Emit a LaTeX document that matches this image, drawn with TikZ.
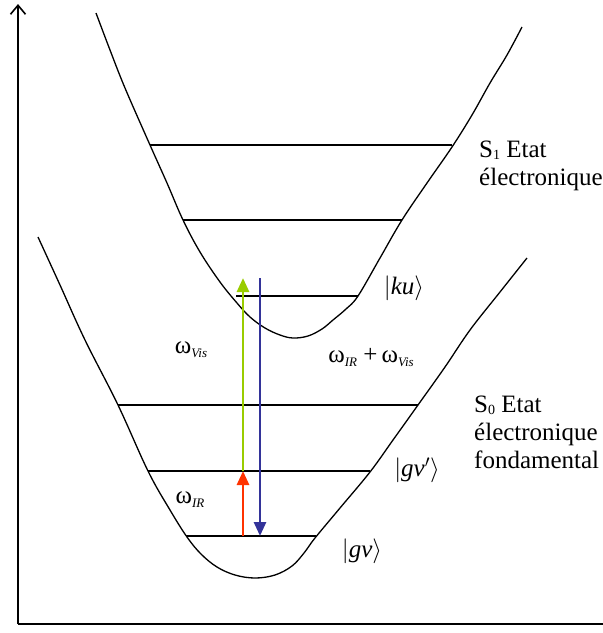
\documentclass[tikz,border=0pt]{standalone}
\usepackage{fontspec}
\setmainfont{Liberation Serif}
\usetikzlibrary{arrows.meta}
\definecolor{visgreen}{RGB}{153,204,0}
\definecolor{irred}{RGB}{255,51,0}
\definecolor{ramanblue}{RGB}{51,51,153}
\newcommand{\wsub}[1]{{\fontsize{25}{25}\selectfont ω}\raisebox{-4pt}{\fontsize{13}{13}\selectfont\itshape #1}}
\begin{document}
\begin{tikzpicture}[x=1pt,y=-1pt,
  curve/.style={line width=1.3pt, line join=round},
  levelline/.style={line width=1.3pt},
  axisline/.style={line width=2pt},
  photon/.style={line width=2.8pt, -{Triangle[length=14pt,width=12pt]}},
  lbl/.style={inner sep=0pt, font=\fontsize{25}{28}\selectfont},
  sublbl/.style={inner sep=0pt, anchor=base west, font=\fontsize{25}{28}\selectfont},
]
\useasboundingbox (0,0) rectangle (603,633);
% axes
\coordinate (O) at (18,624);
\coordinate (Ytop) at (18,4);
\coordinate (Xend) at (603,624);
\draw[axisline] (O) -- (Xend);
\draw[axisline, -{Straight Barb[length=9pt,width=15pt,line width=1.6pt]}] (O) -- (Ytop);
% upper potential S1
\draw[curve] plot[smooth, tension=0.6] coordinates {
  (96,13) (110,50) (125,88) (150,145) (167,183) (183,220) (200,252) (220,282)
  (237,303) (250,317) (265,328) (280,335) (293,338) (308,336) (322,329)
  (333,320) (346,309) (358,296) (380,258) (402,220) (427,183) (452,147)
  (472,115) (490,83) (507,55) (522,27)};
% lower potential S0
\draw[curve] plot[smooth, tension=0.6] coordinates {
  (38,237) (60,285) (85,340) (118,405) (148,471) (170,510) (187,537)
  (201,554) (217,567) (235,575) (255,578) (275,575) (292,566) (304,553)
  (315,538) (340,508) (370,472) (393,440) (418,405) (445,367) (470,330)
  (500,292) (527,258)};
% levels S1
\coordinate (u1a) at (150,145); \coordinate (u1b) at (452,145);
\coordinate (u2a) at (183,220); \coordinate (u2b) at (402,220);
\coordinate (u3a) at (236,296); \coordinate (u3b) at (358,296);
\draw[levelline] (u1a) -- (u1b);
\draw[levelline] (u2a) -- (u2b);
\draw[levelline] (u3a) -- (u3b);
% levels S0
\coordinate (g1a) at (118,405); \coordinate (g1b) at (418,405);
\coordinate (g2a) at (148,471); \coordinate (g2b) at (370,471);
\coordinate (g3a) at (186,536); \coordinate (g3b) at (316,536);
\draw[levelline] (g1a) -- (g1b);
\draw[levelline] (g2a) -- (g2b);
\draw[levelline] (g3a) -- (g3b);
% transitions
\coordinate (irS) at (243,536); \coordinate (irE) at (243,471);
\coordinate (visE) at (243,278);
\coordinate (bS) at (260,278); \coordinate (bE) at (260,536);
\draw[photon, visgreen] (irE) -- (visE);
\draw[photon, irred] (irS) -- (irE);
\draw[photon, ramanblue] (bS) -- (bE);
% labels
\node[lbl] (wvis) at (191,350) {\wsub{Vis}};
\node[lbl] (wsum) at (371,358) {\wsub{IR} +\,\wsub{Vis}};
\node[lbl] (wir) at (190,500) {\wsub{IR}};
\node[lbl] (ku) at (404,288) {$\bigl|$\textit{ku}$\bigr\rangle$};
\node[lbl] (gvp) at (417,470) {$\bigl|$\textit{gv\/}$'\bigr\rangle$};
\node[lbl] (gv) at (362,551) {$\bigl|$\textit{gv\/}$\bigr\rangle$};
\node[sublbl] (s1a) at (479,157) {S\raisebox{-2pt}{\fontsize{14}{14}\selectfont 1} Etat};
\node[sublbl] (s1b) at (479,185) {électronique};
\node[sublbl] (s0a) at (474,412) {S\raisebox{-2pt}{\fontsize{14}{14}\selectfont 0} Etat};
\node[sublbl] (s0b) at (474,440) {électronique};
\node[sublbl] (s0c) at (474,468) {fondamental};
\end{tikzpicture}
\end{document}
